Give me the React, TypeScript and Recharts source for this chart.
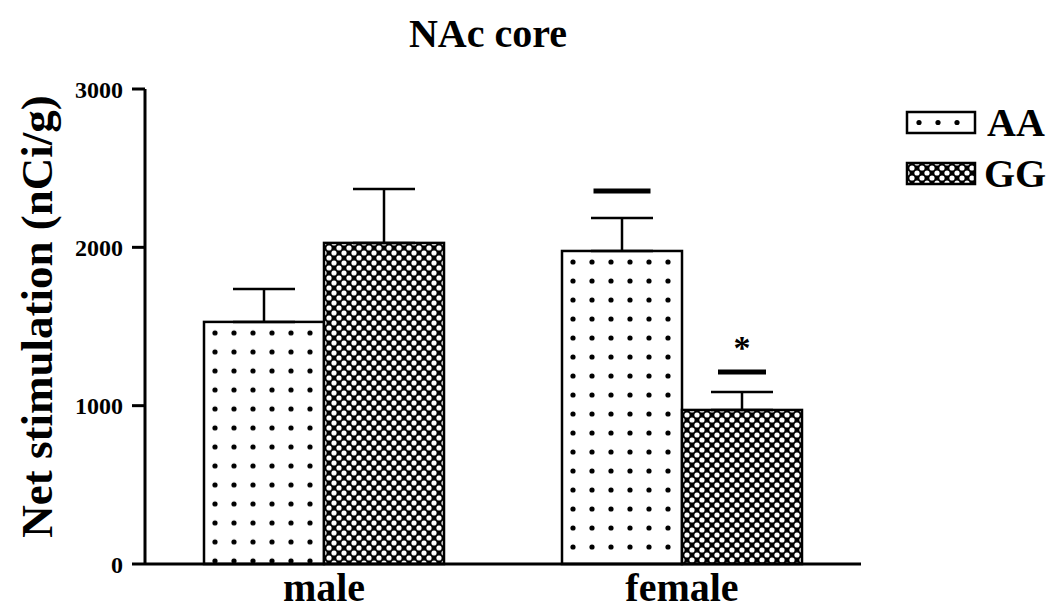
import { BarChart, Bar, XAxis, YAxis, ErrorBar, Legend } from 'recharts';

const categories = ['male', 'female'];
const aaMeans = [1529, 1977];
const ggMeans = [2028, 973];
const aaErrors = [208, 209];
const ggErrors = [341, 114];
const aaMarks = [null, 2356];
const ggMarks = [null, 1213];
const ggStars = ['', '*'];
const yTicks = [0, 1000, 2000, 3000];

const SERIF = '"Liberation Serif", "DejaVu Serif", serif';

const data = categories.map((name, i) => ({
  name,
  aa: aaMeans[i],
  gg: ggMeans[i],
  aaErr: [0, aaErrors[i]],
  ggErr: [0, ggErrors[i]],
  aaMark: aaMarks[i],
  ggMark: ggMarks[i],
  ggStar: ggStars[i],
}));

function DotPattern({ id, x, y }: { id: string; x: number; y: number }) {
  return (
    <pattern id={id} patternUnits="userSpaceOnUse" x={x} y={y} width={19} height={19}>
      <rect width={19} height={19} fill="#fff" />
      <circle cx={11} cy={11} r={2.6} fill="#000" />
    </pattern>
  );
}

function CheckPattern({ id, x, y }: { id: string; x: number; y: number }) {
  return (
    <pattern id={id} patternUnits="userSpaceOnUse" x={x} y={y} width={10} height={10}>
      <rect width={10} height={10} fill="#000" />
      <circle cx={0} cy={0} r={2.6} fill="#fff" />
      <circle cx={10} cy={0} r={2.6} fill="#fff" />
      <circle cx={0} cy={10} r={2.6} fill="#fff" />
      <circle cx={10} cy={10} r={2.6} fill="#fff" />
      <circle cx={5} cy={5} r={2.6} fill="#fff" />
    </pattern>
  );
}

// bar with fill pattern, plus the thick significance line and star above it
function makeShape(kind: 'aa' | 'gg') {
  const markKey = kind === 'aa' ? 'aaMark' : 'ggMark';
  const markWidth = kind === 'aa' ? 57 : 48;
  return (props: any) => {
    const { x, y, width, height, payload, index } = props;
    const value = payload[kind];
    const k = height / value;
    const base = y + height;
    const mark = payload[markKey];
    const star = kind === 'gg' ? payload.ggStar : '';
    const pid = `${kind}-fill-${index}`;
    const cx = x + width / 2;
    const markY = mark != null ? base - mark * k : null;
    return (
      <g>
        <defs>
          {kind === 'aa' ? <DotPattern id={pid} x={x} y={y} /> : <CheckPattern id={pid} x={x} y={y} />}
        </defs>
        <rect x={x} y={y} width={width} height={height} fill={`url(#${pid})`} stroke="#000" strokeWidth={2.5} />
        {markY != null && (
          <line x1={cx - markWidth / 2} x2={cx + markWidth / 2} y1={markY} y2={markY} stroke="#000" strokeWidth={5} />
        )}
        {star && markY != null && (
          <text x={cx} y={markY - 13} textAnchor="middle" fontFamily={SERIF} fontWeight="bold" fontSize={34} fill="#000">
            {star}
          </text>
        )}
      </g>
    );
  };
}

const shapeAA = makeShape('aa');
const shapeGG = makeShape('gg');

const renderLegend = () => (
  <svg width={145} height={100} style={{ display: 'block' }}>
    <defs>
      <CheckPattern id="gg-legend" x={2} y={63} />
    </defs>
    <rect x={2} y={12} width={68} height={21} fill="#fff" stroke="#000" strokeWidth={2.5} />
    {[14, 33, 52].map((dx) => (
      <circle key={dx} cx={dx} cy={22.5} r={2.6} fill="#000" />
    ))}
    <text x={82} y={36} fontFamily={SERIF} fontWeight="bold" fontSize={40} fill="#000">
      AA
    </text>
    <rect x={2} y={63} width={68} height={21} fill="url(#gg-legend)" stroke="#000" strokeWidth={2.5} />
    <text x={79} y={87} fontFamily={SERIF} fontWeight="bold" fontSize={40} fill="#000">
      GG
    </text>
  </svg>
);

const renderYLabel = (props: any) => {
  const vb = props.viewBox;
  const cy = vb.y + vb.height / 2 - 10;
  const bx = 52;
  return (
    <text
      x={bx}
      y={cy}
      transform={`rotate(-90, ${bx}, ${cy})`}
      textAnchor="middle"
      fontFamily={SERIF}
      fontWeight="bold"
      fontSize={45}
      fill="#000"
    >
      Net stimulation (nCi/g)
    </text>
  );
};

export default function App() {
  return (
    <div style={{ position: 'absolute', left: 0, top: 0, width: 1050, height: 610, background: '#fff' }}>
      <div
        style={{
          position: 'absolute',
          left: 388,
          width: 200,
          top: 11,
          textAlign: 'center',
          fontFamily: SERIF,
          fontWeight: 'bold',
          fontSize: 40,
          lineHeight: '46px',
          color: '#000',
        }}
      >
        NAc core
      </div>
      <BarChart
        width={1050}
        height={610}
        data={data}
        margin={{ top: 89, right: 189, left: 0, bottom: 0 }}
        barSize={120}
        barGap={0}
      >
        <XAxis
          dataKey="name"
          height={46}
          interval={0}
          axisLine={{ stroke: '#000', strokeWidth: 3 }}
          tickLine={false}
          tickSize={0}
          tickMargin={9}
          tick={{ fontFamily: SERIF, fontWeight: 'bold', fontSize: 40, fill: '#000' }}
        />
        <YAxis
          width={145}
          domain={[0, 3000]}
          ticks={yTicks}
          interval={0}
          axisLine={{ stroke: '#000', strokeWidth: 3 }}
          tickLine={{ stroke: '#000', strokeWidth: 3 }}
          tickSize={13}
          tickMargin={9}
          tick={{ fontFamily: SERIF, fontWeight: 'bold', fontSize: 24, fill: '#000' }}
          label={{ content: renderYLabel }}
        />
        <Legend
          content={renderLegend}
          layout="horizontal"
          align="center"
          verticalAlign="middle"
          wrapperStyle={{ position: 'absolute', left: 905, top: 100, width: 145, height: 100 }}
        />
        <Bar dataKey="aa" shape={shapeAA} isAnimationActive={false}>
          <ErrorBar dataKey="aaErr" direction="y" width={31} stroke="#000" strokeWidth={2.5} />
        </Bar>
        <Bar dataKey="gg" shape={shapeGG} isAnimationActive={false}>
          <ErrorBar dataKey="ggErr" direction="y" width={31} stroke="#000" strokeWidth={2.5} />
        </Bar>
      </BarChart>
    </div>
  );
}
